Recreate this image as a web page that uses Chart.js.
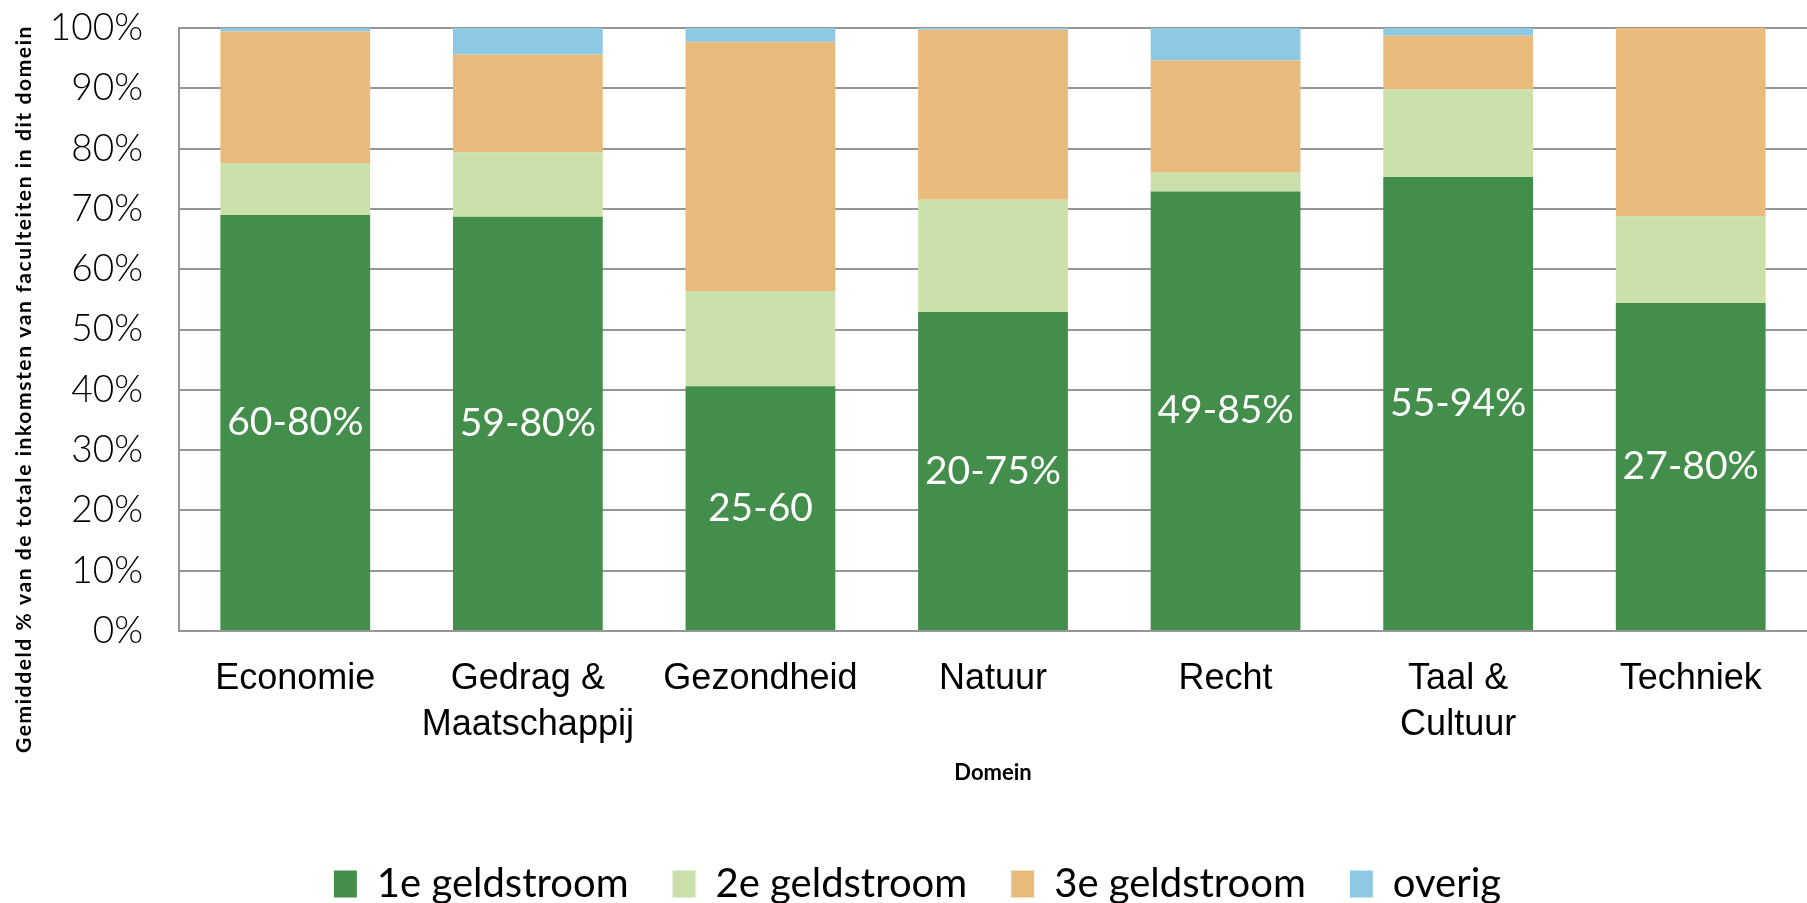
<!DOCTYPE html>
<html><head><meta charset="utf-8">
<script src="https://cdn.jsdelivr.net/npm/chart.js@4.4.0/dist/chart.umd.min.js"></script>
<style>html,body{margin:0;padding:0;background:#fff;}</style>
</head><body>
<canvas id="c" width="1807" height="903"></canvas>
<script>
const categories = [["Economie"], ["Gedrag &", "Maatschappij"], ["Gezondheid"], ["Natuur"], ["Recht"], ["Taal &", "Cultuur"], ["Techniek"]];
const seriesNames = ["1e geldstroom", "2e geldstroom", "3e geldstroom", "overig"];
const eersteGeldstroom = [69.0, 68.7, 40.6, 52.9, 72.9, 75.3, 54.4];
const tweedeGeldstroom = [8.6, 10.7, 15.8, 18.6, 3.1, 14.5, 14.4];
const derdeGeldstroom = [21.8, 16.2, 41.3, 28.2, 18.6, 8.9, 31.2];
const overig = [0.6, 4.4, 2.3, 0.3, 5.4, 1.3, 0.0];
const rangeLabels = ["60-80%", "59-80%", "25-60", "20-75%", "49-85%", "55-94%", "27-80%"];
const yTitle = "Gemiddeld % van de totale inkomsten van faculteiten in dit domein";
const xTitle = "Domein";
const colors = ["#428e4a", "#cbe1ab", "#e8bb7c", "#8dc9e2"];

const rangeLabelPlugin = {
  id: 'rangeLabels',
  afterDatasetsDraw(chart) {
    const ctx = chart.ctx;
    const meta = chart.getDatasetMeta(0);
    ctx.save();
    ctx.fillStyle = '#ffffff';
    ctx.font = '39px Lato, "Open Sans", sans-serif';
    ctx.textAlign = 'center';
    ctx.textBaseline = 'middle';
    meta.data.forEach((el, i) => {
      ctx.fillText(rangeLabels[i], el.x, (el.y + el.base) / 2);
    });
    ctx.restore();
  }
};
const yTitlePlugin = {
  id: 'yTitleText',
  afterDraw(chart) {
    const ctx = chart.ctx;
    ctx.save();
    ctx.translate(24, 389);
    ctx.rotate(-Math.PI / 2);
    ctx.fillStyle = '#000';
    ctx.font = 'bold 21px Lato, "Open Sans", sans-serif';
    try { ctx.letterSpacing = '1.6px'; } catch (e) {}
    ctx.textAlign = 'center';
    ctx.textBaseline = 'middle';
    ctx.fillText(yTitle, 0, 0);
    ctx.restore();
  }
};
const legendShiftPlugin = {
  id: 'legendShift',
  afterLayout(chart) {
    const l = chart.legend;
    if (!l) return;
    l.top += 11;
    l.bottom += 11;
    l.left += 14;
    l.right += 14;
    if (typeof l.adjustHitBoxes === 'function') l.adjustHitBoxes();
  }
};

const data = {
  labels: categories,
  datasets: [
    { label: seriesNames[0], data: eersteGeldstroom, backgroundColor: colors[0] },
    { label: seriesNames[1], data: tweedeGeldstroom, backgroundColor: colors[1] },
    { label: seriesNames[2], data: derdeGeldstroom, backgroundColor: colors[2] },
    { label: seriesNames[3], data: overig, backgroundColor: colors[3] }
  ]
};

new Chart(document.getElementById('c'), {
  type: 'bar',
  data,
  plugins: [rangeLabelPlugin, yTitlePlugin, legendShiftPlugin],
  options: {
    responsive: false,
    animation: false,
    devicePixelRatio: 1,
    layout: { padding: { top: 28, right: 0, left: 0, bottom: 0 } },
    datasets: { bar: { barPercentage: 0.644, categoryPercentage: 1, borderWidth: 0 } },
    plugins: {
      tooltip: { enabled: false },
      legend: {
        position: 'bottom',
        labels: {
          color: '#000',
          font: { family: 'Lato, "Open Sans", sans-serif', size: 40 },
          boxWidth: 23,
          boxHeight: 27,
          padding: 44
        }
      }
    },
    scales: {
      x: {
        stacked: true,
        afterFit(scale) { scale.height = 178; },
        grid: { display: false, drawTicks: false },
        border: { display: true, color: '#969696', width: 2 },
        ticks: {
          color: '#000',
          padding: 25,
          font: { family: '"Liberation Sans", Arial, sans-serif', size: 36, lineHeight: 1.28 },
          maxRotation: 0
        },
        title: {
          display: true,
          text: xTitle,
          color: '#000',
          font: { family: 'Lato, "Open Sans", sans-serif', size: 22, weight: 'bold', lineHeight: 1.2 },
          padding: { top: 0, bottom: 23 }
        }
      },
      y: {
        stacked: true,
        min: 0,
        max: 100,
        afterFit(scale) { scale.width = 179; scale.paddingTop = 10; scale.paddingBottom = 10; },
        grid: { color: '#969696', lineWidth: 2, drawTicks: false },
        border: { display: true, color: '#969696', width: 2 },
        ticks: {
          stepSize: 10,
          color: '#000',
          padding: 36,
          font: { family: 'Lato, "Open Sans", sans-serif', size: 37, weight: '300' },
          callback: v => v + '%'
        },
        title: { display: false, text: yTitle }
      }
    }
  }
});
</script>
</body></html>
